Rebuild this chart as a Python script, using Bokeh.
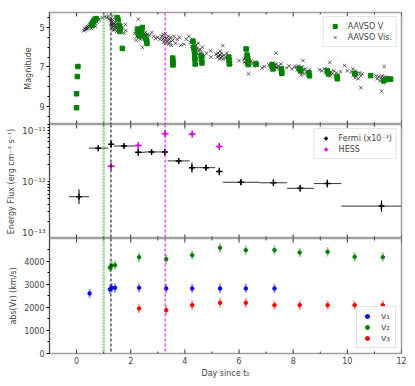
import numpy as np
from bokeh.plotting import figure
from bokeh.layouts import column
from bokeh.models import (Range1d, FixedTicker, Span, Legend, LegendItem)
from bokeh.embed import file_html
from bokeh.resources import INLINE

# ---------------- data ----------------
# AAVSO V (green squares): day, magnitude
v_day = [0.05, 0.03, 0.00, 0.00,
         0.55, 0.58, 0.60, 0.64, 0.68, 0.72,
         1.50, 1.53, 1.57, 1.60, 1.60, 1.69,
         2.25, 2.28, 2.31, 2.35, 2.40, 2.43, 2.50, 2.56, 2.59, 2.60,
         3.55, 3.55, 3.56, 3.56,
         4.30, 4.33, 4.35, 4.36, 4.37, 4.38, 4.60, 4.62, 4.63,
         5.62, 5.63, 5.64,
         6.26, 6.30, 6.32, 6.33, 6.34, 6.63,
         7.22, 7.25, 7.56, 7.57, 7.58,
         8.23, 8.28, 8.58, 8.60,
         9.26, 9.30, 9.62, 9.63,
         10.28, 10.86,
         11.35, 11.50, 11.60]
v_mag = [6.98, 7.49, 8.36, 9.07,
         4.85, 4.90, 4.75, 4.66, 4.60, 4.55,
         4.50, 4.60, 4.90, 5.05, 5.20, 6.06,
         5.08, 5.25, 5.42, 5.30, 5.20, 5.00, 5.45, 5.59, 5.70, 5.81,
         6.55, 6.65, 6.78, 6.90,
         5.70, 6.00, 6.20, 6.40, 6.60, 6.85, 6.45, 6.60, 6.80,
         6.50, 6.65, 6.85,
         6.09, 6.40, 6.55, 6.70, 6.88, 6.85,
         6.90, 7.10, 7.10, 7.22, 7.32,
         7.10, 7.20, 7.30, 7.45,
         7.20, 7.35, 7.48, 7.60,
         7.35, 7.44,
         7.70, 7.60, 7.62]

# AAVSO visual estimates (black crosses): day, magnitude
vis_day = [0.27, 0.30, 0.33, 0.36, 0.38, 0.40, 0.43, 0.45, 0.48, 0.50, 0.52, 0.55, 0.58,
           0.60, 0.63, 0.66, 0.68, 0.72, 0.75, 0.80, 0.83, 0.55, 0.70,
           0.95, 1.05, 1.12, 1.18, 1.20,
           1.25, 1.28, 1.30, 1.32, 1.35, 1.37, 1.40, 1.42, 1.45, 1.47, 1.50, 1.52, 1.27, 1.30,
           1.33, 1.38, 1.43, 1.55, 1.60, 1.65, 1.70, 1.76, 1.80, 1.82, 1.32, 1.48, 1.58, 1.35,
           2.15, 2.20, 2.22, 2.25, 2.28, 2.30, 2.33, 2.35, 2.38, 2.40, 2.43, 2.45, 2.48, 2.50,
           2.52, 2.55, 2.58, 2.60, 2.62, 2.28, 2.43, 2.70, 2.78, 2.85, 2.92, 3.00, 3.08, 2.20,
           3.15, 3.18, 3.20, 3.22, 3.25, 3.27, 3.28, 3.30, 3.32, 3.35, 3.38, 3.40, 3.42, 3.45,
           3.48, 3.50, 3.55, 3.60, 3.65, 3.72, 3.80, 3.85, 3.97, 4.05, 4.15,
           4.20, 4.25, 4.28, 4.30, 4.33, 4.35, 4.38, 4.40, 4.42, 4.45, 4.48, 4.50, 4.52, 4.55,
           4.58, 4.62, 4.65, 4.70, 4.28, 4.95, 4.96, 4.80, 4.45,
           5.15, 5.20, 5.22, 5.25, 5.28, 5.30, 5.33, 5.35, 5.38, 5.40, 5.42, 5.45, 5.50, 5.55,
           5.60, 5.65, 5.70, 6.00, 5.30,
           6.18, 6.20, 6.23, 6.25, 6.28, 6.30, 6.32, 6.35, 6.38, 6.40, 6.45, 6.50, 6.55, 6.60,
           6.65, 6.32, 6.35, 6.25,
           6.85, 6.95, 7.10, 7.15, 7.20, 7.22, 7.25, 7.28, 7.30, 7.32, 7.35, 7.38, 7.40, 7.45,
           7.50, 7.37, 7.55,
           7.75, 7.85, 7.95, 8.05,
           8.12, 8.15, 8.20, 8.22, 8.25, 8.28, 8.30, 8.33, 8.36, 8.38, 8.40, 8.45, 8.50, 8.55,
           8.60, 8.30,
           8.97, 9.05, 9.15, 9.20, 9.25, 9.28, 9.30, 9.33, 9.36, 9.40, 9.45, 9.50, 9.60, 9.35,
           9.90, 9.75,
           10.15, 10.20, 10.22, 10.25, 10.28, 10.30, 10.32, 10.35, 10.40, 10.45, 10.50, 10.55,
           10.50, 10.00,
           11.05, 11.10, 11.15, 11.20, 11.25, 11.28, 11.30, 11.33, 11.36, 11.40, 11.45, 11.50,
           11.55, 11.26, 11.36]
vis_mag = [5.17, 5.05, 5.12, 5.00, 5.08, 4.95, 5.02, 4.90, 4.97, 4.85, 4.92, 4.80, 4.88,
           4.75, 4.82, 4.70, 4.78, 4.65, 4.72, 4.62, 4.60, 5.05, 4.95,
           4.50, 4.45, 4.50, 4.42, 4.55,
           4.65, 4.75, 4.85, 4.70, 4.95, 4.80, 4.90, 5.00, 4.85, 5.05, 4.95, 5.10, 4.90, 5.00,
           4.60, 5.10, 4.75, 5.00, 5.15, 4.90, 5.05, 5.30, 4.85, 5.15, 4.42, 5.20, 4.80, 5.15,
           5.30, 5.20, 5.45, 5.35, 5.15, 5.50, 5.30, 5.60, 5.25, 5.45, 5.35, 5.55, 5.40, 5.30,
           5.50, 5.25, 5.45, 5.60, 5.35, 4.58, 6.01, 5.40, 5.25, 5.45, 5.55, 5.50, 5.60, 5.65,
           5.45, 5.60, 5.35, 5.75, 5.50, 5.65, 5.30, 5.80, 5.55, 5.70, 5.45, 5.85, 5.60, 5.75,
           5.50, 5.90, 5.65, 5.45, 5.80, 5.60, 5.50, 5.90, 5.85, 5.60, 5.45,
           5.75, 5.95, 6.10, 5.85, 6.20, 6.00, 6.30, 5.90, 6.15, 6.05, 6.35, 5.80, 6.20, 6.10,
           6.40, 6.25, 6.00, 6.45, 5.60, 6.18, 6.50, 6.30, 6.60,
           6.35, 6.50, 6.30, 6.45, 6.60, 6.40, 6.55, 6.30, 6.45, 5.92, 6.60, 6.40, 6.55, 6.30,
           6.70, 6.50, 6.80, 6.68, 6.20,
           6.60, 6.75, 6.55, 6.85, 6.70, 6.60, 6.90, 6.75, 6.65, 6.85, 6.70, 6.80, 6.95, 6.75,
           6.90, 6.10, 7.35, 6.45,
           7.05, 6.98, 6.90, 7.05, 6.85, 7.00, 6.80, 6.95, 7.10, 6.90, 7.00, 6.85, 7.05, 6.95,
           7.10, 6.30, 6.85,
           7.05, 6.95, 7.10, 7.00,
           7.00, 7.15, 6.95, 7.10, 7.25, 7.05, 7.20, 7.00, 6.68, 7.15, 7.35, 7.10, 7.25, 7.40,
           7.15, 7.40,
           7.15, 7.20, 7.10, 7.30, 7.20, 7.40, 7.15, 7.30, 7.45, 7.25, 7.35, 7.20, 7.30, 6.77,
           6.93, 7.25,
           7.25, 7.10, 7.40, 7.30, 7.55, 7.20, 7.45, 7.35, 7.60, 7.30, 7.45, 7.35,
           8.06, 7.20,
           7.45, 7.60, 7.50, 7.70, 7.55, 7.45, 7.65, 7.80, 7.50, 7.60, 7.70, 7.55,
           7.65, 8.23, 6.98]

# Fermi LAT flux: centre, bin edges, value, log10 error
fermi_x = [0.09, 0.80, 1.28, 1.75, 2.28, 2.77, 3.26, 3.77, 4.26, 4.78, 5.27, 6.07, 7.27, 8.26, 9.26, 11.26]
fermi_lo = [-0.28, 0.46, 1.20, 1.38, 2.16, 2.52, 3.02, 3.36, 4.18, 4.50, 5.15, 5.40, 6.75, 7.77, 8.77, 9.78]
fermi_hi = [0.46, 1.17, 1.36, 2.16, 2.52, 3.02, 3.36, 4.18, 4.50, 5.12, 5.40, 6.75, 7.77, 8.77, 9.78, 12.0]
fermi_y = [5.4e-13, 3.85e-12, 4.5e-12, 4.2e-12, 3.25e-12, 3.3e-12, 3.3e-12, 2.3e-12,
           1.75e-12, 1.75e-12, 1.5e-12, 9.7e-13, 9.5e-13, 7.6e-13, 9.2e-13, 3.7e-13]
fermi_dex = [0.13, 0.05, 0.06, 0.03, 0.07, 0.03, 0.06, 0.04, 0.09, 0.05, 0.07, 0.05, 0.06, 0.06, 0.07, 0.10]

# HESS flux
hess_x = [1.28, 2.28, 3.27, 4.27, 5.27]
hess_y = [1.86e-12, 4.3e-12, 6.9e-12, 6.8e-12, 4.1e-12]
hess_dex = [0.04, 0.03, 0.03, 0.03, 0.03]
hess_xerr = [0.06, 0.06, 0.06, 0.06, 0.06]

# Radial velocities (km/s)
v1_x = [0.48, 1.23, 1.30, 1.42, 2.31, 3.31, 4.27, 5.30, 6.25, 7.31]
v1_y = [2600, 2773, 2843, 2843, 2843, 2816, 2816, 2816, 2816, 2816]
v2_x = [1.23, 1.30, 1.42, 2.31, 3.31, 4.27, 5.30, 6.25, 7.31, 8.24, 9.27, 10.27, 11.31]
v2_y = [3726, 3800, 3826, 4173, 4086, 4260, 4576, 4476, 4476, 4376, 4403, 4186, 4173]
v3_x = [2.31, 3.31, 4.27, 5.30, 6.25, 7.31, 8.24, 9.27, 10.27, 11.31]
v3_y = [1950, 1876, 2093, 2193, 2193, 2093, 2093, 2093, 2093, 2093]
v_err = 200

# reference epochs (days)
epoch_green = 1.0
epoch_black = 1.27
epoch_magenta = 3.27

# tick positions
x_major = [0, 2, 4, 6, 8, 10, 12]
x_minor = [-1, 1, 3, 5, 7, 9, 11]
mag_ticks = [5, 7, 9]
mag_minor = [4.5, 5.5, 6, 6.5, 7.5, 8, 8.5, 9.5]
flux_decades = [1e-13, 1e-12, 1e-11]
flux_labels = ["10\u207b\u00b9\u00b3", "10\u207b\u00b9\u00b2", "10\u207b\u00b9\u00b9"]
flux_minor = [k * 10.0 ** e for e in (-13, -12) for k in range(2, 10)]
vel_ticks = [0, 1000, 2000, 3000, 4000]
vel_minor = [500, 1500, 2500, 3500, 4500]

# ---------------- styling helpers ----------------
FONT = "DejaVu Sans"
FS = "8px"
W_FRAME = 352
X_RANGE = (-1, 12)


def new_fig(h, y_range, y_type="linear", top=0, bottom_axis=False):
    p = figure(frame_width=W_FRAME, frame_height=h,
               x_range=Range1d(*X_RANGE), y_range=y_range,
               x_axis_type="linear" if bottom_axis else None, y_axis_type=y_type,
               output_backend="svg", toolbar_location=None,
               min_border_left=49, min_border_right=6,
               min_border_top=top, min_border_bottom=0)
    p.grid.visible = False
    p.border_fill_alpha = 0
    p.outline_line_color = "#a0a0a0"
    p.outline_line_width = 1.5
    for ax in p.yaxis:
        ax.major_label_text_font = FONT
        ax.major_label_text_font_size = FS
        ax.axis_label_text_font = FONT
        ax.axis_label_text_font_size = FS
        ax.axis_label_text_font_style = "normal"
        ax.major_tick_out = 3
        ax.major_tick_in = 0
        ax.minor_tick_out = 2
        ax.minor_tick_in = 0
        ax.axis_label_standoff = 3
        ax.major_label_standoff = 2
        ax.axis_line_color = "#444444"
    for v, c, dash, w, a in [(epoch_green, "#4caf50", "2 1", 2.5, 0.6),
                             (epoch_black, "black", "3 2", 1, 1.0),
                             (epoch_magenta, "#e000e0", "3 2", 1, 1.0)]:
        p.add_layout(Span(location=v, dimension="height", line_color=c,
                          line_dash=dash, line_width=w, line_alpha=a))
    # inward tick marks on the top and bottom frame edges
    for yy in (y_range.start, y_range.end):
        p.scatter(x_major, [yy] * len(x_major), marker="dash", angle=np.pi / 2,
                  size=8, line_color="#333333", line_width=1)
        p.scatter(x_minor, [yy] * len(x_minor), marker="dash", angle=np.pi / 2,
                  size=4, line_color="#333333", line_width=1)
    return p


def style_legend(leg, loc):
    leg.location = loc
    leg.label_text_font = FONT
    leg.label_text_font_size = FS
    leg.glyph_width = 14
    leg.glyph_height = 10
    leg.label_height = 10
    leg.spacing = 1
    leg.padding = 4
    leg.margin = 4
    leg.label_standoff = 6
    leg.border_line_color = "#cccccc"
    leg.border_line_width = 1
    leg.background_fill_alpha = 0.9


# ---------------- top panel: light curve ----------------
p1 = new_fig(112, Range1d(9.92, 4.24), top=12)
p1.yaxis.axis_label = "Magnitude"
p1.yaxis.ticker = FixedTicker(ticks=mag_ticks, minor_ticks=mag_minor)

r_vis = p1.scatter(vis_day, vis_mag, marker="x", size=5, line_color="black",
                   line_width=0.8, line_alpha=0.75)
r_v = p1.scatter(v_day, v_mag, marker="square", size=4.5, fill_color="green",
                 line_color="green")
leg1 = Legend(items=[LegendItem(label="AAVSO V", renderers=[r_v], index=0),
                     LegendItem(label="AAVSO Vis.", renderers=[r_vis], index=0)])
style_legend(leg1, "top_right")
p1.add_layout(leg1)

# ---------------- middle panel: gamma-ray flux ----------------
FLUX_LO, FLUX_HI = 1e-13, 1e-11
FRAME2 = 114
p2 = new_fig(FRAME2, Range1d(FLUX_LO, FLUX_HI), y_type="log")
p2.yaxis.axis_label = "Energy Flux (erg cm\u207b\u00b2 s\u207b\u00b9)"
# label anchors: edge decades nudged inside the panel by a few px so their text is not clipped
px_dex = np.log10(FLUX_HI / FLUX_LO) / FRAME2
nudge = 10 ** (6 * px_dex)
label_pos = [flux_decades[0] * nudge, flux_decades[1], flux_decades[2] / nudge]
p2.yaxis.ticker = FixedTicker(ticks=label_pos, minor_ticks=flux_minor + flux_decades)
p2.yaxis.major_label_overrides = {float(t): s for t, s in zip(label_pos, flux_labels)}
p2.yaxis.major_label_text_font_size = "9px"
p2.yaxis.major_tick_out = 0
p2.yaxis.minor_tick_out = 2

fy = np.array(fermi_y)
fd = np.array(fermi_dex)
p2.segment(x0=fermi_lo, y0=fermi_y, x1=fermi_hi, y1=fermi_y, line_color="black",
           line_width=1, line_alpha=0.8)
p2.segment(x0=fermi_x, y0=fy / 10 ** fd, x1=fermi_x, y1=fy * 10 ** fd,
           line_color="black", line_width=1)
r_f = p2.scatter(fermi_x, fermi_y, marker="cross", size=6, line_color="black",
                 line_width=1.5)

hy = np.array(hess_y)
hd = np.array(hess_dex)
hx = np.array(hess_x)
hxe = np.array(hess_xerr)
p2.segment(x0=hx - hxe, y0=hess_y, x1=hx + hxe, y1=hess_y, line_color="#e000e0", line_width=1.5)
p2.segment(x0=hess_x, y0=hy / 10 ** hd, x1=hess_x, y1=hy * 10 ** hd,
           line_color="#e000e0", line_width=1.5)
r_h = p2.scatter(hess_x, hess_y, marker="cross", size=7, line_color="#e000e0",
                 line_width=1.5)

leg2 = Legend(items=[LegendItem(label="Fermi (x10\u207b\u00b3)", renderers=[r_f], index=0),
                     LegendItem(label="HESS", renderers=[r_h], index=0)])
style_legend(leg2, "top_right")
p2.add_layout(leg2)

# ---------------- bottom panel: velocities ----------------
p3 = new_fig(115, Range1d(0, 4980), bottom_axis=True)
p3.yaxis.axis_label = "abs(Vr) (km/s)"
p3.yaxis.ticker = FixedTicker(ticks=vel_ticks, minor_ticks=vel_minor)
ax = p3.xaxis[0]
ax.ticker = FixedTicker(ticks=x_major, minor_ticks=x_minor)
ax.major_tick_in = 0
ax.major_tick_out = 0
ax.minor_tick_in = 0
ax.minor_tick_out = 0
ax.axis_line_alpha = 0
ax.major_label_text_font = FONT
ax.major_label_text_font_size = FS
ax.major_label_standoff = 3
ax.axis_label = "Day since t\u2080"
ax.axis_label_text_font = FONT
ax.axis_label_text_font_size = FS
ax.axis_label_text_font_style = "normal"
ax.axis_label_standoff = 2

items3 = []
for xs, ys, col, lab in [(v1_x, v1_y, "blue", "v\u2081"),
                         (v2_x, v2_y, "green", "v\u2082"),
                         (v3_x, v3_y, "red", "v\u2083")]:
    ya = np.array(ys)
    p3.segment(x0=xs, y0=ya - v_err, x1=xs, y1=ya + v_err, line_color=col,
               line_width=2, line_alpha=0.4)
    r = p3.scatter(xs, ys, marker="circle", size=3.5, color=col)
    items3.append(LegendItem(label=lab, renderers=[r], index=0))
leg3 = Legend(items=items3)
style_legend(leg3, "bottom_right")
leg3.label_text_font_size = "9px"
leg3.label_width = 10
leg3.glyph_width = 12
leg3.label_standoff = 8
leg3.margin = 5
p3.add_layout(leg3)

layout = column(p1, p2, p3, spacing=0)
open("out.html", "w").write(file_html(layout, INLINE))
